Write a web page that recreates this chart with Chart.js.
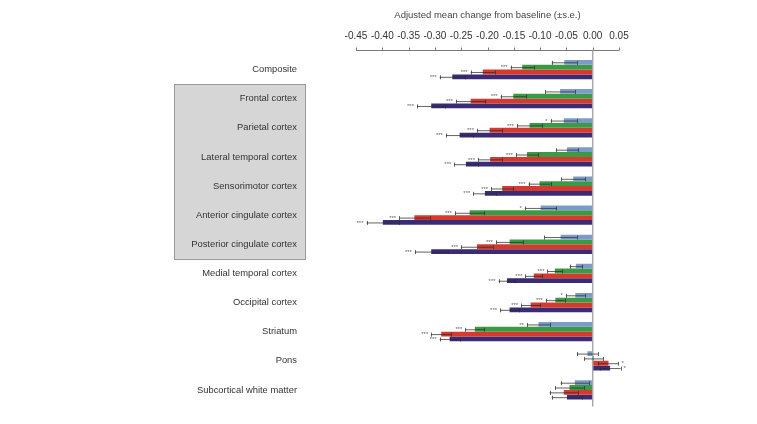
<!DOCTYPE html>
<html>
<head>
<meta charset="utf-8">
<script src="https://cdn.jsdelivr.net/npm/chart.js@4/dist/chart.umd.min.js"></script>
<style>
html,body{margin:0;padding:0;background:#fff;overflow:hidden;}
#wrap{width:757px;height:424px;position:relative;}
</style>
</head>
<body>
<div id="wrap"><canvas id="c"></canvas></div>
<script>
const categories = ['Composite','Frontal cortex','Parietal cortex','Lateral temporal cortex','Sensorimotor cortex','Anterior cingulate cortex','Posterior cingulate cortex','Medial temporal cortex','Occipital cortex','Striatum','Pons','Subcortical white matter'];
const xTicks = [-0.45,-0.40,-0.35,-0.30,-0.25,-0.20,-0.15,-0.10,-0.05,0.00,0.05];
const axisTitle = 'Adjusted mean change from baseline (\u00b1s.e.)';

const seriesA = [-0.054,-0.062,-0.055,-0.049,-0.037,-0.099,-0.061,-0.032,-0.033,-0.103,-0.010,-0.034];
const seriesAErr = [0.024,0.028,0.025,0.021,0.023,0.030,0.031,0.012,0.018,0.022,0.020,0.027];
const seriesAStars = ['','','*','','','*','','','*','**','',''];

const seriesB = [-0.134,-0.151,-0.120,-0.125,-0.101,-0.234,-0.158,-0.072,-0.071,-0.224,0.002,-0.044];
const seriesBErr = [0.022,0.024,0.024,0.021,0.021,0.028,0.026,0.014,0.018,0.018,0.018,0.027];
const seriesBStars = ['***','***','***','***','***','***','***','***','***','***','',''];

const seriesC = [-0.209,-0.232,-0.196,-0.195,-0.172,-0.339,-0.220,-0.112,-0.118,-0.288,0.030,-0.055];
const seriesCErr = [0.023,0.028,0.024,0.023,0.021,0.029,0.030,0.016,0.018,0.019,0.019,0.027];
const seriesCStars = ['***','***','***','***','***','***','***','***','***','***','*',''];

const seriesD = [-0.267,-0.307,-0.253,-0.241,-0.205,-0.399,-0.307,-0.163,-0.158,-0.272,0.033,-0.049];
const seriesDErr = [0.024,0.027,0.026,0.022,0.022,0.031,0.031,0.016,0.018,0.019,0.020,0.029];
const seriesDStars = ['***','***','***','***','***','***','***','***','***','***','*',''];

const colors = ['#7b9cc9','#3d9a44','#d63a2f','#3a2b74'];
const errs = [seriesAErr, seriesBErr, seriesCErr, seriesDErr];
const stars = [seriesAStars, seriesBStars, seriesCStars, seriesDStars];

const FONT = '"Liberation Sans", Arial, Helvetica, sans-serif';

const decor = {
  id: 'decor',
  beforeDraw(chart) {
    const ctx = chart.ctx, y = chart.scales.y;
    const top = (y.getPixelForValue(0) + y.getPixelForValue(1)) / 2;
    const bot = (y.getPixelForValue(6) + y.getPixelForValue(7)) / 2;
    ctx.save();
    ctx.fillStyle = '#d6d6d6';
    ctx.fillRect(174.5, top, 131, bot - top);
    ctx.strokeStyle = '#9a9a9a';
    ctx.lineWidth = 1;
    ctx.strokeRect(174.5, Math.round(top) + 0.5, 131, Math.round(bot - top));
    ctx.restore();
  },
  afterDatasetsDraw(chart) {
    const ctx = chart.ctx, x = chart.scales.x, ca = chart.chartArea;
    ctx.save();
    const ay = 50.5;
    ctx.strokeStyle = '#7a7a7a';
    ctx.lineWidth = 1;
    ctx.beginPath();
    ctx.moveTo(x.getPixelForValue(xTicks[0]), ay);
    ctx.lineTo(x.getPixelForValue(xTicks[xTicks.length - 1]), ay);
    xTicks.forEach(t => {
      const px = Math.round(x.getPixelForValue(t)) + 0.5;
      ctx.moveTo(px, ay);
      ctx.lineTo(px, ay - 3);
    });
    ctx.stroke();
    const zx = x.getPixelForValue(0);
    ctx.strokeStyle = '#a8a8a8';
    ctx.lineWidth = 1.5;
    ctx.beginPath();
    ctx.moveTo(zx, ay);
    ctx.lineTo(zx, ca.bottom + 2);
    ctx.stroke();
    ctx.font = '6px ' + FONT;
    ctx.textBaseline = 'middle';
    chart.data.datasets.forEach((ds, di) => {
      const meta = chart.getDatasetMeta(di);
      meta.data.forEach((bar, i) => {
        const v = ds.data[i], e = errs[di][i];
        const x1 = x.getPixelForValue(v - e), x2 = x.getPixelForValue(v + e);
        const by = bar.y;
        ctx.strokeStyle = 'rgba(45,45,45,0.75)';
        ctx.lineWidth = 1;
        ctx.beginPath();
        ctx.moveTo(x1, by + 0.5); ctx.lineTo(x2, by + 0.5);
        ctx.moveTo(Math.round(x1) + 0.5, by - 1.5); ctx.lineTo(Math.round(x1) + 0.5, by + 2.5);
        ctx.moveTo(Math.round(x2) + 0.5, by - 1.5); ctx.lineTo(Math.round(x2) + 0.5, by + 2.5);
        ctx.stroke();
        const s = stars[di][i];
        if (s) {
          ctx.fillStyle = '#666';
          if (v < 0) { ctx.textAlign = 'right'; ctx.fillText(s, x1 - 3, by + 0.5); }
          else { ctx.textAlign = 'left'; ctx.fillText(s, x2 + 3, by + 0.5); }
        }
      });
    });
    ctx.restore();
  }
};

new Chart(document.getElementById('c'), {
  type: 'bar',
  data: {
    labels: categories,
    datasets: [
      { label: 'A', data: seriesA, backgroundColor: colors[0] },
      { label: 'B', data: seriesB, backgroundColor: colors[1] },
      { label: 'C', data: seriesC, backgroundColor: colors[2] },
      { label: 'D', data: seriesD, backgroundColor: colors[3] }
    ]
  },
  options: {
    indexAxis: 'y',
    responsive: true,
    maintainAspectRatio: false,
    animation: false,
    devicePixelRatio: 1,
    layout: { padding: { left: 0, right: 138, top: 0, bottom: 19.5 } },
    datasets: { bar: { categoryPercentage: 0.665, barPercentage: 1, borderWidth: 0 } },
    plugins: { legend: { display: false }, tooltip: { enabled: false } },
    scales: {
      x: {
        position: 'top',
        min: -0.45, max: 0.05,
        afterBuildTicks: s => { s.ticks = xTicks.map(v => ({ value: v })); },
        afterFit: s => { s.height = 55; },
        grid: { display: false, drawTicks: false },
        border: { display: false },
        ticks: {
          color: '#333', padding: 13,
          font: { family: FONT, size: 10, lineHeight: 1.2 },
          callback: v => Number(v).toFixed(2),
          maxRotation: 0, autoSkip: false
        },
        title: {
          display: true, text: axisTitle, color: '#444',
          font: { family: FONT, size: 9.5, lineHeight: 1.2 },
          padding: { top: 9.3, bottom: 0 }
        }
      },
      y: {
        afterFit: s => { s.width = 356; },
        grid: { display: true, drawOnChartArea: false, drawTicks: true, tickLength: 59, tickColor: 'rgba(0,0,0,0)' },
        border: { display: false },
        ticks: { color: '#333', padding: 0, font: { family: FONT, size: 9.4 } }
      }
    }
  },
  plugins: [decor]
});
</script>
</body>
</html>
